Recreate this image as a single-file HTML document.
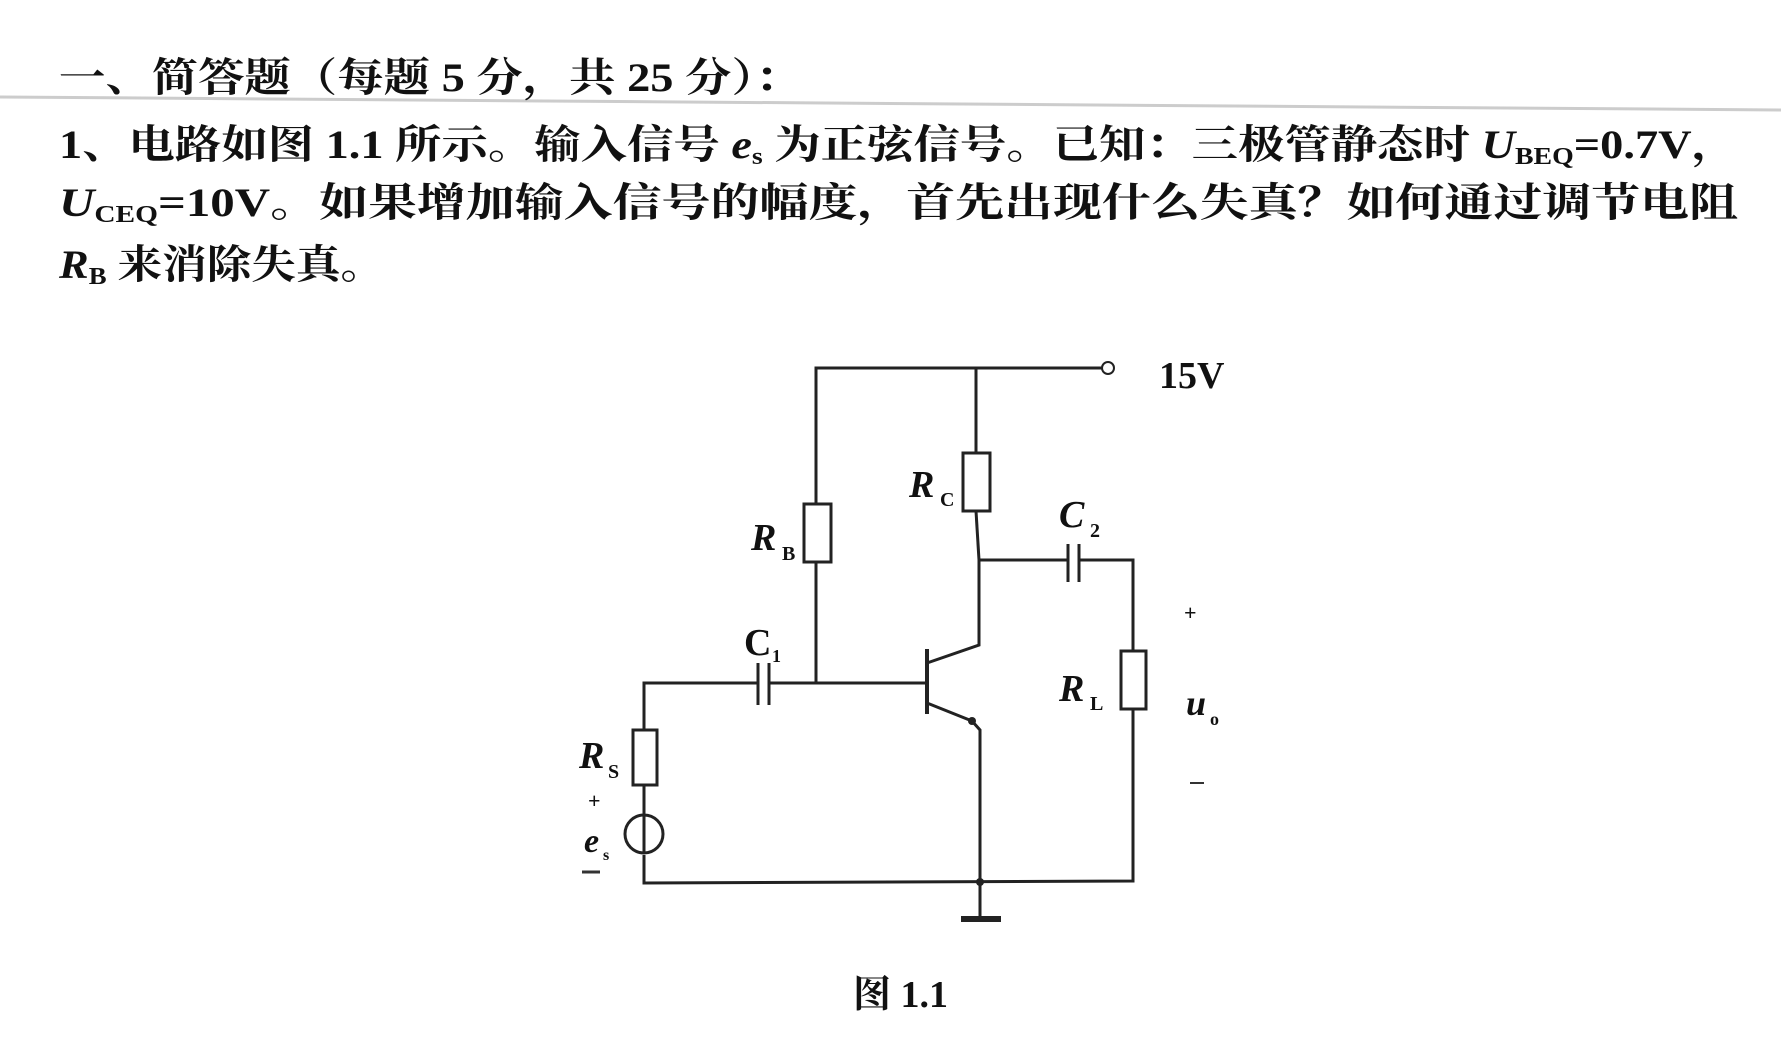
<!DOCTYPE html>
<html><head><meta charset="utf-8"><style>
html,body{margin:0;padding:0;background:#fff;}
svg{display:block}
text{font-family:"Liberation Serif","Noto Serif CJK SC","Noto Sans CJK SC",serif;font-weight:bold;fill:#111}
</style></head><body>
<svg width="1781" height="1053" viewBox="0 0 1781 1053" xmlns="http://www.w3.org/2000/svg">
<line x1="0" y1="97" x2="1781" y2="110" stroke="#ccc" stroke-width="3"/>
<text x="59" y="91" font-size="40" textLength="742" lengthAdjust="spacingAndGlyphs">一、简答题（每题 5 分，共 25 分）：</text>
<text x="59" y="158" font-size="40" textLength="1679" lengthAdjust="spacingAndGlyphs">1、电路如图 1.1 所示。输入信号 <tspan font-style="italic">e</tspan><tspan font-size="24" dy="6">s</tspan><tspan dy="-6"> 为正弦信号。已知：三极管静态时 </tspan><tspan font-style="italic">U</tspan><tspan font-size="24" dy="6">BEQ</tspan><tspan dy="-6">=0.7V，</tspan></text>
<text x="59" y="216" font-size="40" textLength="1679" lengthAdjust="spacingAndGlyphs"><tspan font-style="italic">U</tspan><tspan font-size="24" dy="6">CEQ</tspan><tspan dy="-6">=10V。如果增加输入信号的幅度，首先出现什么失真？如何通过调节电阻</tspan></text>
<text x="59" y="278" font-size="40" textLength="326" lengthAdjust="spacingAndGlyphs"><tspan font-style="italic">R</tspan><tspan font-size="24" dy="6">B</tspan><tspan dy="-6"> 来消除失真。</tspan></text>

<g stroke="#222" stroke-width="3" fill="none">
<polyline points="816,562 816,368 1102,368"/>
<circle cx="1108" cy="368" r="6" fill="#fff" stroke-width="2"/>
<line x1="976" y1="368" x2="976" y2="453"/>
<rect x="963" y="453" width="27" height="58" fill="#fff"/>
<line x1="976" y1="511" x2="979" y2="560"/>
<rect x="804" y="504" width="27" height="58" fill="#fff"/>
<line x1="816" y1="562" x2="816" y2="683"/>
<polyline points="979,560 1068,560"/>
<line x1="1068" y1="544" x2="1068" y2="582"/>
<line x1="1079" y1="544" x2="1079" y2="582"/>
<polyline points="1079,560 1133,560 1133,651"/>
<rect x="1121" y="651" width="25" height="58" fill="#fff"/>
<polyline points="1133,709 1133,881 644,883 644,855"/>
<polyline points="644,785 644,683 758,683"/>
<line x1="758" y1="663" x2="758" y2="705"/>
<line x1="769" y1="663" x2="769" y2="705"/>
<polyline points="769,683 927,683"/>
<line x1="927" y1="649" x2="927" y2="714" stroke-width="4"/>
<polyline points="927,663 979,645 979,560"/>
<polyline points="927,703 972,721 980,730 980,919"/>
<line x1="961" y1="919" x2="1001" y2="919" stroke-width="6"/>
<rect x="633" y="730" width="24" height="55" fill="#fff"/>
<line x1="644" y1="785" x2="644" y2="814"/>
<circle cx="644" cy="834" r="19" fill="#fff"/>
<line x1="644" y1="815" x2="644" y2="853"/>
</g>
<circle cx="972" cy="721" r="4" fill="#222"/>
<circle cx="980" cy="882" r="4" fill="#222"/>

<text x="1159" y="388" font-size="38" font-weight="bold">15V</text>
<text x="751" y="550" font-size="38" font-style="italic">R</text><text x="782" y="560" font-size="20">B</text>
<text x="909" y="497" font-size="38" font-style="italic">R</text><text x="940" y="506" font-size="20">C</text>
<text x="1059" y="527" font-size="38" font-style="italic">C</text><text x="1090" y="537" font-size="20">2</text>
<text x="744" y="655" font-size="38">C</text><text x="772" y="662" font-size="18">1</text>
<text x="1059" y="701" font-size="38" font-style="italic">R</text><text x="1090" y="710" font-size="20">L</text>
<text x="1186" y="715" font-size="36" font-style="italic">u</text><text x="1210" y="725" font-size="18">o</text>
<text x="1184" y="620" font-size="22" font-weight="normal">+</text>
<line x1="1190" y1="783" x2="1204" y2="783" stroke="#333" stroke-width="2"/>
<text x="579" y="768" font-size="38" font-style="italic">R</text><text x="608" y="778" font-size="20">S</text>
<text x="588" y="808" font-size="22">+</text>
<text x="584" y="852" font-size="34" font-style="italic">e</text><text x="603" y="860" font-size="16">s</text>
<line x1="582" y1="872" x2="600" y2="872" stroke="#333" stroke-width="3"/>
<text x="853" y="1007" font-size="38" font-family="Liberation Serif,Noto Serif CJK SC,serif">图 1.1</text>
</svg>
</body></html>
